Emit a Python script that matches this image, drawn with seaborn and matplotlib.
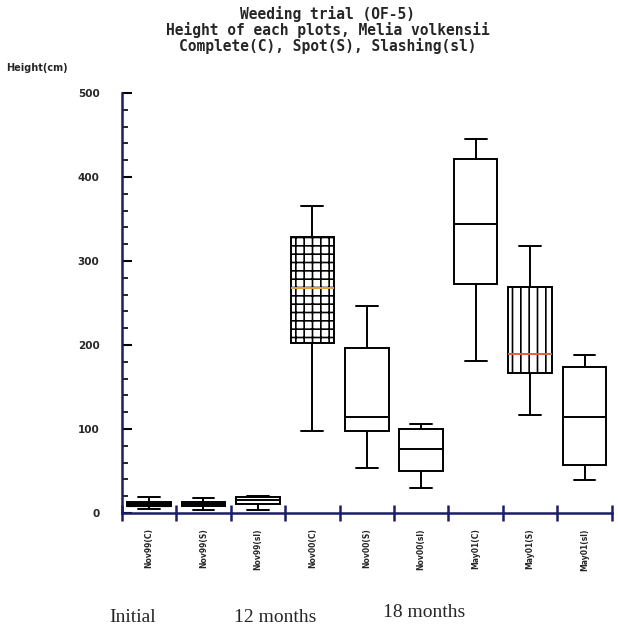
import numpy as np
import pandas as pd
import matplotlib
matplotlib.use("Agg")
import matplotlib.pyplot as plt
import seaborn as sns
from matplotlib.ticker import MultipleLocator

# Box summaries: min, Q1, median, Q3, max (cm)
plots = ["Nov99(C)", "Nov99(S)", "Nov99(sl)",
         "Nov00(C)", "Nov00(S)", "Nov00(sl)",
         "May01(C)", "May01(S)", "May01(sl)"]
h_min = [5, 4, 4, 98, 54, 30, 181, 117, 39]
h_q1 = [8, 8, 11, 202, 98, 50, 273, 167, 57]
h_med = [10, 11, 15, 268, 114, 76, 344, 189, 114]
h_q3 = [13, 13, 19, 328, 196, 100, 421, 269, 174]
h_max = [19, 18, 20, 365, 246, 106, 445, 318, 188]

periods = ["Initial", "12 months", "18 months"]

# five values per plot -> seaborn quartiles land exactly on Q1/median/Q3
rows = []
for i, p in enumerate(plots):
    for v in (h_min[i], h_q1[i], h_med[i], h_q3[i], h_max[i]):
        rows.append({"plot": p, "height": v})
df = pd.DataFrame(rows)

sns.set_style("ticks")
plt.rcParams["font.family"] = ["DejaVu Sans"]
plt.rcParams["hatch.linewidth"] = 1.2

navy = "#1c1c6b"

fig = plt.figure(figsize=(6.18, 6.44), dpi=100)
ax = fig.add_axes([0.197, 0.2034, 0.793, 0.6522])

sns.boxplot(data=df, x="plot", y="height", order=plots, whis=(0, 100),
            width=0.8, color="white", linecolor="black", linewidth=1.4,
            showfliers=False, ax=ax)

# hatching and coloured medians as in the original
cont = ax.containers[0]
cont.boxes[3].set_hatch("++")
cont.boxes[7].set_hatch("||")
cont.medians[3].set_color("#e8a23a")
cont.medians[7].set_color("#e0603a")
cont.medians[0].set_linewidth(3)

ax.set_ylim(0, 500)
ax.set_xlim(-0.5, len(plots) - 0.5)
ax.yaxis.set_major_locator(MultipleLocator(100))
ax.yaxis.set_minor_locator(MultipleLocator(20))
ax.tick_params(axis="y", which="major", direction="in", length=7, width=1.5,
               color="black", pad=16, labelsize=7.5)
ax.tick_params(axis="y", which="minor", direction="in", length=4, width=1.2,
               color="black")
for t in ax.get_yticklabels():
    t.set_fontweight("bold")

# x: labels at box centres, navy ticks on the boundaries
ax.set_xticks(range(len(plots)))
ax.set_xticklabels(plots, rotation=90, fontsize=5.5, fontweight="bold")
ax.set_xticks(np.arange(-0.5, len(plots)), minor=True)
ax.tick_params(axis="x", which="major", length=0, pad=11)
ax.tick_params(axis="x", which="minor", direction="inout", length=12,
               width=1.8, color=navy)

ax.set_xlabel("")
ax.set_ylabel("")
sns.despine(ax=ax)
ax.spines["left"].set_color(navy)
ax.spines["left"].set_linewidth(1.8)
ax.spines["bottom"].set_color(navy)
ax.spines["bottom"].set_linewidth(1.8)

fig.text(0.53, 0.99,
         "Weeding trial (OF-5)\nHeight of each plots, Melia volkensii\n"
         "Complete(C), Spot(S), Slashing(sl)",
         ha="center", va="top", family="DejaVu Sans Mono", fontweight="bold",
         fontsize=10.5, linespacing=1.0)
fig.text(0.01, 1 - 68 / 644, "Height(cm)", ha="left", va="center",
         fontsize=7, fontweight="bold")

for xp, yp, lab in zip([0.215, 0.445, 0.687], [0.028, 0.028, 0.036], periods):
    fig.text(xp, yp, lab, ha="center", va="bottom",
             family="Liberation Serif", fontsize=14)

fig.savefig("out.png", dpi=100)
